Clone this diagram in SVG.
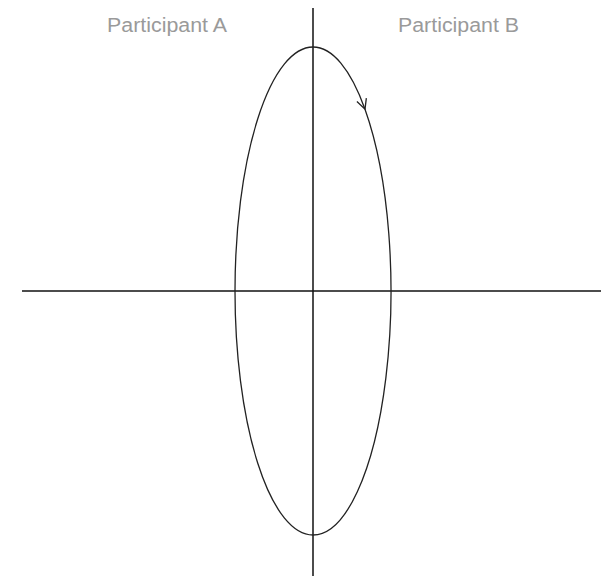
<svg xmlns="http://www.w3.org/2000/svg" width="601" height="576" viewBox="0 0 601 576">
<style>
.axis{stroke:#111;stroke-width:1.5;fill:none}
.loop{stroke:#222;stroke-width:1.3;fill:none}
.lbl{font-family:"Liberation Sans",Arial,sans-serif;font-size:20px;fill:#9a9a9a}
</style>
<defs>
<marker id="arr" viewBox="0 0 12 12" refX="11" refY="6" markerWidth="12" markerHeight="12" markerUnits="userSpaceOnUse" orient="auto">
<path d="M1,1 L11,6 L1,11" fill="none" stroke="#222" stroke-width="1.3"/>
</marker>
</defs>
<rect width="601" height="576" fill="#fff"/>
<g id="axes">
<line class="axis" x1="313" y1="8" x2="313" y2="576"/>
<line class="axis" x1="22" y1="291" x2="601" y2="291"/>
</g>
<g id="connectors">
<path class="loop" d="M313,47 A78,244 0 0 1 365,109.2" marker-end="url(#arr)"/>
<path class="loop" d="M365,109.2 A78,244 0 0 1 313,535 A78,244 0 0 1 313,47"/>
</g>
<g id="participantA"><text class="lbl" x="107" y="32" textLength="120" lengthAdjust="spacingAndGlyphs">Participant A</text></g>
<g id="participantB"><text class="lbl" x="398" y="32" textLength="121" lengthAdjust="spacingAndGlyphs">Participant B</text></g>
</svg>
